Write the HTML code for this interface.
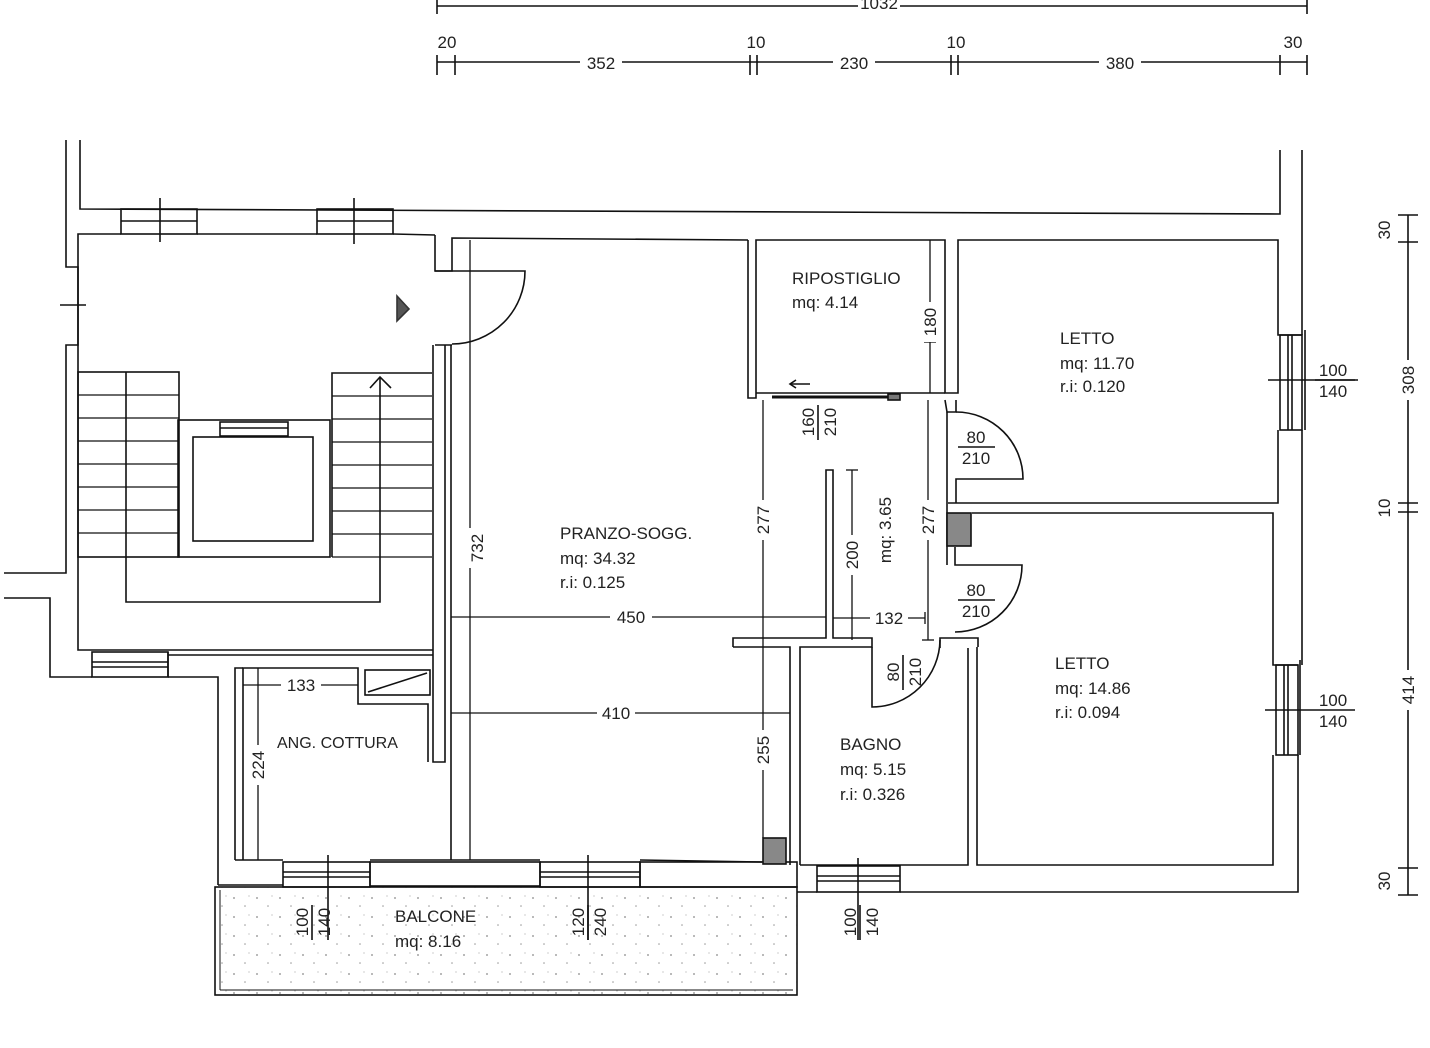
<!DOCTYPE html>
<html><head><meta charset="utf-8"><style>
html,body{margin:0;padding:0;background:#fff}
svg{display:block}
text{font-family:"Liberation Sans",sans-serif;fill:#222}
</style></head><body>
<svg width="1430" height="1048" viewBox="0 0 1430 1048" xmlns="http://www.w3.org/2000/svg">
<defs>
<pattern id="dots" width="23" height="19" patternUnits="userSpaceOnUse">
<circle cx="4" cy="5" r="0.9" fill="#888"/><circle cx="15" cy="13" r="0.8" fill="#999"/><circle cx="19" cy="3" r="0.6" fill="#aaa"/>
</pattern>
</defs>
<g stroke="#111" stroke-width="1.6" fill="none">
<line x1="437" y1="6" x2="1307" y2="6"/>
<line x1="437" y1="0" x2="437" y2="14"/><line x1="1307" y1="0" x2="1307" y2="14"/>
<line x1="437" y1="62" x2="1307" y2="62"/>
<line x1="437" y1="55" x2="437" y2="75"/><line x1="455" y1="55" x2="455" y2="75"/>
<line x1="750" y1="55" x2="750" y2="75"/><line x1="757" y1="55" x2="757" y2="75"/>
<line x1="951" y1="55" x2="951" y2="75"/><line x1="958" y1="55" x2="958" y2="75"/>
<line x1="1280" y1="55" x2="1280" y2="75"/><line x1="1307" y1="55" x2="1307" y2="75"/>
<line x1="1408" y1="215" x2="1408" y2="895"/>
<line x1="1398" y1="215" x2="1418" y2="215"/><line x1="1398" y1="242" x2="1418" y2="242"/>
<line x1="1398" y1="503" x2="1418" y2="503"/><line x1="1398" y1="512" x2="1418" y2="512"/>
<line x1="1398" y1="868" x2="1418" y2="868"/><line x1="1398" y1="895" x2="1418" y2="895"/>

<polyline points="80,140 80,209 1280,214 1280,150"/>
<line x1="1302" y1="150" x2="1302" y2="335"/>
<polyline points="66,140 66,267 78,267 78,345 66,345 66,573 4,573"/>
<line x1="60" y1="305" x2="86" y2="305"/>
<polyline points="4,598 50,598 50,677 92,677"/>
<polyline points="168,677 218,677 218,885"/>
<rect x="92" y="652" width="76" height="25"/>
<line x1="92" y1="662" x2="168" y2="662"/><line x1="92" y1="667" x2="168" y2="667"/>
<polyline points="121,234 78,234 78,650 433,650"/>
<rect x="121" y="209" width="76" height="25"/><rect x="317" y="209" width="76" height="25"/>
<line x1="121" y1="221" x2="197" y2="221"/><line x1="317" y1="221" x2="393" y2="221"/>
<line x1="160" y1="198" x2="160" y2="242"/><line x1="354" y1="198" x2="354" y2="244"/>
<line x1="197" y1="234" x2="317" y2="234"/><line x1="393" y1="234" x2="435" y2="235"/>
<polyline points="435,235 435,271 452,271 452,238 748,240"/>
<line x1="435" y1="271" x2="452" y2="271"/>
<path d="M452 271 L525 271 A73 73 0 0 1 452 344"/>
<polyline points="435,345 452,345"/>
<polygon points="397,296 409,309 397,321" fill="#555" stroke="#333"/>
<polyline points="433,345 433,762 445,762 445,345"/>
<line x1="451" y1="345" x2="451" y2="860"/>
<rect x="78" y="372" width="101" height="185"/>
<g stroke-width="1.3">
<line x1="78" y1="395" x2="179" y2="395"/><line x1="78" y1="418" x2="179" y2="418"/><line x1="78" y1="441" x2="179" y2="441"/>
<line x1="78" y1="464" x2="179" y2="464"/><line x1="78" y1="487" x2="179" y2="487"/><line x1="78" y1="510" x2="179" y2="510"/>
<line x1="78" y1="533" x2="179" y2="533"/>
<line x1="332" y1="396" x2="432" y2="396"/><line x1="332" y1="419" x2="432" y2="419"/><line x1="332" y1="442" x2="432" y2="442"/>
<line x1="332" y1="465" x2="432" y2="465"/><line x1="332" y1="488" x2="432" y2="488"/><line x1="332" y1="511" x2="432" y2="511"/>
<line x1="332" y1="534" x2="432" y2="534"/><line x1="332" y1="557" x2="432" y2="557"/>
</g>
<polyline points="332,557 332,373 432,373"/>
<rect x="178" y="420" width="152" height="137"/>
<rect x="193" y="437" width="120" height="104"/>
<rect x="220" y="422" width="68" height="14"/><line x1="220" y1="428" x2="288" y2="428"/>
<polyline points="126,372 126,602 380,602 380,377"/>
<polyline points="370,388 380,377 391,388"/>

<polyline points="243,860 243,668 358,668 358,704 428,704 428,762"/>
<polyline points="235,860 235,668 243,668"/>
<rect x="365" y="670" width="65" height="25"/><line x1="368" y1="692" x2="427" y2="673"/>
<line x1="168" y1="652" x2="168" y2="677"/>
<line x1="168" y1="655" x2="433" y2="655"/>

<polyline points="235,860 283,860"/><polyline points="370,860 540,860"/><polyline points="640,860 762,862"/>
<polyline points="218,885 283,885"/>
<rect x="283" y="862" width="87" height="25"/><line x1="283" y1="872" x2="370" y2="872"/><line x1="283" y1="877" x2="370" y2="877"/>
<rect x="370" y="862" width="170" height="24"/>
<rect x="540" y="862" width="100" height="25"/><line x1="540" y1="872" x2="640" y2="872"/><line x1="540" y1="877" x2="640" y2="877"/>
<rect x="640" y="862" width="157" height="25"/>
<line x1="328" y1="855" x2="328" y2="940"/><line x1="588" y1="855" x2="588" y2="940"/>
<rect x="215" y="887" width="582" height="108" fill="url(#dots)"/>
<line x1="220" y1="990" x2="793" y2="990" stroke-width="1"/>
<line x1="220" y1="890" x2="220" y2="990" stroke-width="1"/>

<polyline points="748,240 748,398 756,398 756,240 945,240 945,393 958,393 958,240 1278,240 1278,335 1302,335"/>
<line x1="756" y1="393" x2="945" y2="393"/>
<line x1="772" y1="397" x2="898" y2="397" stroke-width="3"/>
<rect x="888" y="394" width="12" height="6" fill="#777"/>
<polyline points="790,384 810,384"/><polyline points="796,380 790,384 796,388"/>
<rect x="1280" y="335" width="22" height="95"/><line x1="1288" y1="335" x2="1288" y2="430"/><line x1="1292" y1="335" x2="1292" y2="430"/>
<line x1="1305" y1="330" x2="1305" y2="430"/>
<line x1="1268" y1="380" x2="1358" y2="380"/>
<polyline points="1278,430 1278,503 948,503"/>
<polyline points="1302,430 1302,665"/>
<polyline points="972,513 1273,513 1273,665 1298,665"/>
<rect x="1276" y="665" width="22" height="90"/><line x1="1284" y1="665" x2="1284" y2="755"/><line x1="1288" y1="665" x2="1288" y2="755"/>
<line x1="1300" y1="660" x2="1300" y2="755"/>
<line x1="1265" y1="710" x2="1355" y2="710"/>
<polyline points="1273,755 1273,865 977,865 977,647"/>
<polyline points="1298,755 1298,892 900,892"/>
<polyline points="945,400 947,412 956,412 956,400"/>
<path d="M956 412 A67 67 0 0 1 1023 479 L956 479 L956 503"/>
<line x1="947" y1="412" x2="947" y2="565"/>
<rect x="947" y="513" width="24" height="33" fill="#888"/>
<path d="M955 547 L955 565 L1022 565 A67 67 0 0 1 955 632"/>
<polyline points="940,648 940,638 978,638 978,647"/>
<polyline points="733,647 733,638 826,638 826,470 833,470 833,638 872,638 872,647 800,647 800,865"/>
<polyline points="733,647 790,647 790,865"/>
<path d="M872 647 L872 707 A68 68 0 0 0 940 640"/>
<polyline points="968,648 968,865 800,865"/>
<rect x="763" y="838" width="23" height="26" fill="#888"/>
<polyline points="797,892 817,892"/>
<rect x="817" y="866" width="83" height="26"/><line x1="817" y1="876" x2="900" y2="876"/><line x1="817" y1="881" x2="900" y2="881"/>
<line x1="858" y1="858" x2="858" y2="940"/>

<g stroke-width="1.3">
<line x1="470" y1="240" x2="470" y2="860"/>
<line x1="763" y1="400" x2="763" y2="838"/>
<line x1="930" y1="240" x2="930" y2="393"/><line x1="924" y1="342" x2="936" y2="342"/>
<line x1="928" y1="400" x2="928" y2="640"/><line x1="922" y1="640" x2="934" y2="640"/>
<line x1="852" y1="470" x2="852" y2="640"/><line x1="846" y1="470" x2="858" y2="470"/>
<line x1="451" y1="617" x2="826" y2="617"/>
<line x1="833" y1="618" x2="925" y2="618"/><line x1="925" y1="612" x2="925" y2="624"/>
<line x1="451" y1="713" x2="790" y2="713"/>
<line x1="243" y1="685" x2="358" y2="685"/>
<line x1="258" y1="668" x2="258" y2="860"/>
</g>
<line x1="958" y1="447" x2="995" y2="447"/>
<line x1="958" y1="600" x2="995" y2="600"/>
<line x1="818" y1="405" x2="818" y2="440"/>
<line x1="903" y1="655" x2="903" y2="690"/>
<line x1="1315" y1="380" x2="1355" y2="380"/>
<line x1="312" y1="905" x2="312" y2="940"/><line x1="588" y1="905" x2="588" y2="940"/><line x1="860" y1="905" x2="860" y2="940"/>
</g>

<g font-size="17">
<rect x="858" y="0" width="42" height="10" fill="#fff"/>
<text x="879" y="9" text-anchor="middle">1032</text>
<g fill="#fff"><rect x="580" y="54" width="42" height="16"/><rect x="833" y="54" width="42" height="16"/><rect x="1099" y="54" width="42" height="16"/></g>
<text x="601" y="69" text-anchor="middle">352</text>
<text x="854" y="69" text-anchor="middle">230</text>
<text x="1120" y="69" text-anchor="middle">380</text>
<text x="447" y="48" text-anchor="middle">20</text>
<text x="756" y="48" text-anchor="middle">10</text>
<text x="956" y="48" text-anchor="middle">10</text>
<text x="1293" y="48" text-anchor="middle">30</text>

<text transform="translate(1390,230) rotate(-90)" text-anchor="middle">30</text>
<rect x="1399" y="360" width="18" height="40" fill="#fff"/>
<text transform="translate(1414,380) rotate(-90)" text-anchor="middle">308</text>
<text transform="translate(1390,508) rotate(-90)" text-anchor="middle">10</text>
<rect x="1399" y="670" width="18" height="40" fill="#fff"/>
<text transform="translate(1414,690) rotate(-90)" text-anchor="middle">414</text>
<text transform="translate(1390,881) rotate(-90)" text-anchor="middle">30</text>

<g fill="#fff">
<rect x="462" y="528" width="17" height="40"/><rect x="755" y="500" width="17" height="40"/><rect x="755" y="730" width="17" height="40"/>
<rect x="922" y="302" width="17" height="40"/><rect x="920" y="500" width="17" height="40"/><rect x="844" y="535" width="17" height="40"/>
<rect x="610" y="608" width="42" height="18"/><rect x="870" y="609" width="38" height="18"/><rect x="597" y="704" width="38" height="18"/>
<rect x="281" y="676" width="40" height="18"/><rect x="250" y="745" width="17" height="40"/>
</g>
<text transform="translate(483,548) rotate(-90)" text-anchor="middle">732</text>
<text transform="translate(769,520) rotate(-90)" text-anchor="middle">277</text>
<text transform="translate(769,750) rotate(-90)" text-anchor="middle">255</text>
<text transform="translate(936,322) rotate(-90)" text-anchor="middle">180</text>
<text transform="translate(934,520) rotate(-90)" text-anchor="middle">277</text>
<text transform="translate(858,555) rotate(-90)" text-anchor="middle">200</text>
<text transform="translate(891,530) rotate(-90)" text-anchor="middle">mq: 3.65</text>
<text x="631" y="623" text-anchor="middle">450</text>
<text x="889" y="624" text-anchor="middle">132</text>
<text x="616" y="719" text-anchor="middle">410</text>
<text x="301" y="691" text-anchor="middle">133</text>
<text transform="translate(264,765) rotate(-90)" text-anchor="middle">224</text>

<text x="976" y="443" text-anchor="middle">80</text><text x="976" y="464" text-anchor="middle">210</text>
<text x="976" y="596" text-anchor="middle">80</text><text x="976" y="617" text-anchor="middle">210</text>
<text transform="translate(814,422) rotate(-90)" text-anchor="middle">160</text>
<text transform="translate(836,422) rotate(-90)" text-anchor="middle">210</text>
<text transform="translate(899,672) rotate(-90)" text-anchor="middle">80</text>
<text transform="translate(921,672) rotate(-90)" text-anchor="middle">210</text>
<text x="1333" y="376" text-anchor="middle">100</text><text x="1333" y="397" text-anchor="middle">140</text>
<text x="1333" y="706" text-anchor="middle">100</text><text x="1333" y="727" text-anchor="middle">140</text>
<text transform="translate(308,922) rotate(-90)" text-anchor="middle">100</text>
<text transform="translate(330,922) rotate(-90)" text-anchor="middle">140</text>
<text transform="translate(584,922) rotate(-90)" text-anchor="middle">120</text>
<text transform="translate(606,922) rotate(-90)" text-anchor="middle">240</text>
<text transform="translate(856,922) rotate(-90)" text-anchor="middle">100</text>
<text transform="translate(878,922) rotate(-90)" text-anchor="middle">140</text>

<text x="792" y="284">RIPOSTIGLIO</text>
<text x="792" y="308">mq: 4.14</text>
<text x="1060" y="344">LETTO</text>
<text x="1060" y="369">mq: 11.70</text>
<text x="1060" y="392">r.i: 0.120</text>
<text x="560" y="539">PRANZO-SOGG.</text>
<text x="560" y="564">mq: 34.32</text>
<text x="560" y="588">r.i: 0.125</text>
<text x="1055" y="669">LETTO</text>
<text x="1055" y="694">mq: 14.86</text>
<text x="1055" y="718">r.i: 0.094</text>
<text x="840" y="750">BAGNO</text>
<text x="840" y="775">mq: 5.15</text>
<text x="840" y="800">r.i: 0.326</text>
<text x="277" y="748" font-size="16">ANG. COTTURA</text>
<text x="395" y="922">BALCONE</text>
<text x="395" y="947">mq: 8.16</text>
</g>
</svg>
</body></html>
